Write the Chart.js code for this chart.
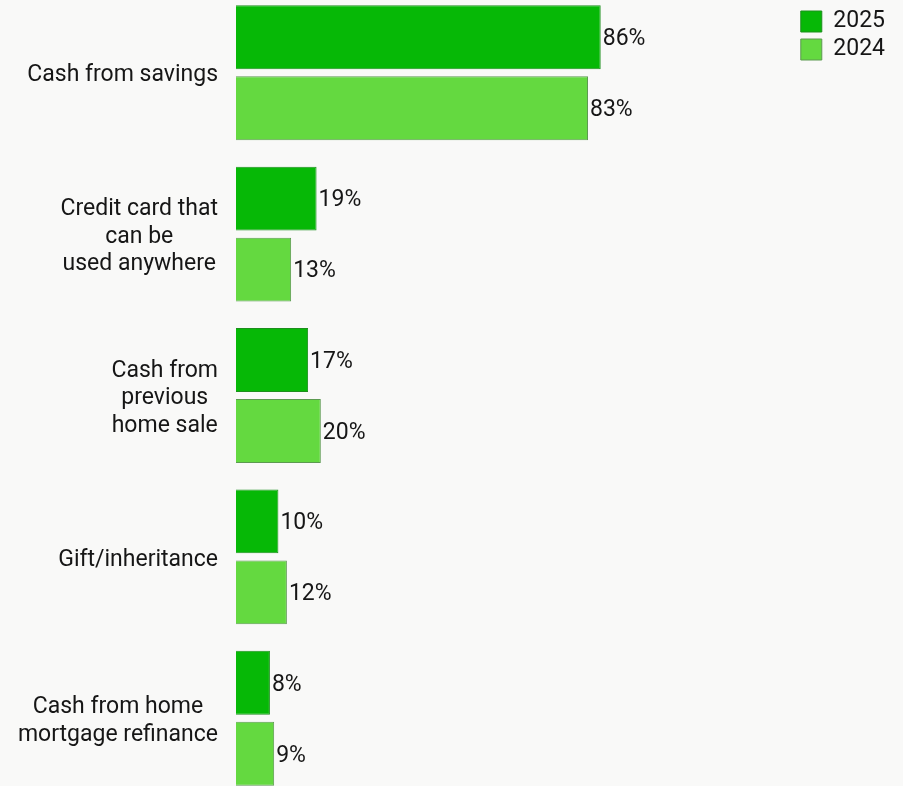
<!DOCTYPE html>
<html>
<head>
<meta charset="utf-8">
<script src="https://cdn.jsdelivr.net/npm/chart.js@4"></script>
<style>
  html, body { margin: 0; padding: 0; background: #f9f9f8; }
  .frame { width: 903px; height: 786px; position: relative; overflow: hidden; }
  .chartWrapper { position: absolute; left: 0; top: -8px; width: 903px; height: 807px; }
</style>
</head>
<body>
<div class="frame">
  <div class="chartWrapper">
    <canvas id="fundingChart"></canvas>
  </div>
</div>
<script>
const categories = [
  ['Cash from savings'],
  ['Credit card that', 'can be', 'used anywhere'],
  ['Cash from', 'previous', 'home sale'],
  ['Gift/inheritance'],
  ['Cash from home', 'mortgage refinance']
];
const values2025 = [86, 19, 17, 10, 8];
const values2024 = [83, 13, 20, 12, 9];

const FONT = 'Roboto, "Noto Sans", sans-serif';
const TEXT_COLOR = '#161616';

// multi-line category names, each block centred on itself and right-aligned to the bars
const categoryLabels = {
  id: 'categoryLabels',
  afterDraw(chart) {
    const { ctx, chartArea, scales } = chart;
    const lineHeight = 27.5;
    ctx.save();
    ctx.font = '23px ' + FONT;
    ctx.fillStyle = TEXT_COLOR;
    ctx.textAlign = 'center';
    ctx.textBaseline = 'middle';
    categories.forEach((lines, i) => {
      const widest = Math.max(...lines.map(l => ctx.measureText(l).width));
      const cx = chartArea.left - 18 - widest / 2;
      const cy = scales.y.getPixelForValue(i) + 3;
      const startY = cy - (lines.length - 1) * lineHeight / 2;
      lines.forEach((line, j) => {
        ctx.fillText(line, cx, startY + j * lineHeight);
      });
    });
    ctx.restore();
  }
};

// percentage printed just past the end of each bar
const valueLabels = {
  id: 'valueLabels',
  afterDatasetsDraw(chart) {
    const { ctx } = chart;
    ctx.save();
    ctx.font = '23px ' + FONT;
    ctx.fillStyle = TEXT_COLOR;
    ctx.textAlign = 'left';
    ctx.textBaseline = 'middle';
    chart.data.datasets.forEach((ds, di) => {
      chart.getDatasetMeta(di).data.forEach((bar, i) => {
        ctx.fillText(ds.data[i] + '%', bar.x + 2, bar.y + 2);
      });
    });
    ctx.restore();
  }
};

const ctx = document.getElementById('fundingChart').getContext('2d');
new Chart(ctx, {
  type: 'bar',
  data: {
    labels: categories,
    datasets: [
      {
        label: '2025',
        data: values2025,
        backgroundColor: '#06b806',
        borderColor: '#1d8f1d',
        borderWidth: 1,
        categoryPercentage: 0.88,
        barPercentage: 0.9
      },
      {
        label: '2024',
        data: values2024,
        backgroundColor: '#64d940',
        borderColor: '#5c9a50',
        borderWidth: 1,
        categoryPercentage: 0.88,
        barPercentage: 0.9
      }
    ]
  },
  options: {
    indexAxis: 'y',
    responsive: true,
    maintainAspectRatio: false,
    animation: false,
    layout: {
      padding: { top: 0, bottom: 0, left: 236, right: 8 }
    },
    plugins: {
      legend: {
        display: true,
        position: 'right',
        align: 'start',
        title: {
          display: true,
          text: '',
          padding: 0,
          font: { size: 13, lineHeight: 1 }
        },
        labels: {
          boxWidth: 21,
          boxHeight: 21,
          padding: 5,
          color: TEXT_COLOR,
          font: { family: FONT, size: 23 }
        }
      },
      tooltip: { enabled: false }
    },
    scales: {
      x: {
        display: false,
        min: 0,
        max: 132
      },
      y: {
        display: false
      }
    }
  },
  plugins: [categoryLabels, valueLabels]
});
</script>
</body>
</html>
